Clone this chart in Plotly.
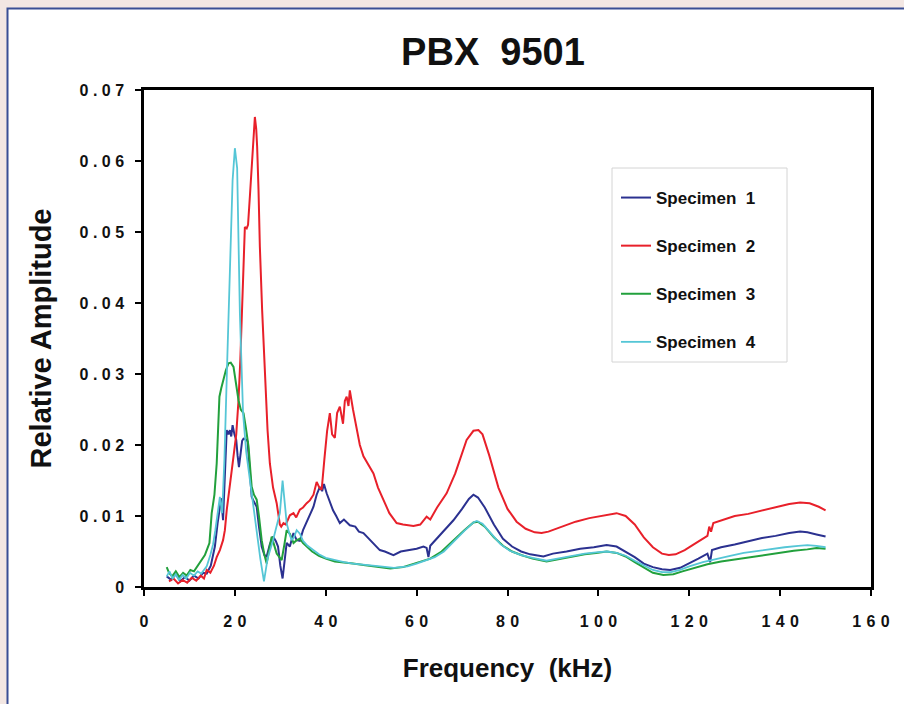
import plotly.graph_objects as go

# ---- data: relative amplitude spectra, frequency in kHz ----
freq1 = [5.0, 6.0, 7.0, 8.0, 9.0, 10.0, 11.0, 12.0, 13.0, 13.8, 14.7, 15.6, 16.2, 16.7, 17.0, 17.4, 17.8,
         18.2, 18.6, 18.9, 19.2, 19.5, 19.9, 20.3, 20.6, 20.9, 21.3, 21.6, 21.9, 22.4, 22.8, 23.2, 23.7,
         24.2, 24.8, 25.3, 25.9, 26.5, 27.0, 27.7, 28.4, 29.0, 29.5, 30.0, 30.5, 31.0, 31.4, 32.1, 32.9,
         33.6, 34.3, 35.0, 36.0, 37.3, 38.0, 38.7, 39.2, 39.6, 40.2, 40.9, 41.6, 42.3, 43.1, 44.0, 45.3,
         46.5, 47.3, 48.3, 49.5, 50.5, 51.9, 53.0, 54.9, 56.5, 58.6, 60.0, 61.5, 62.2, 62.6, 63.0, 63.7,
         65.0, 66.5, 68.1, 70.0, 71.5, 72.5, 73.5, 75.0, 77.0, 79.0, 81.0, 83.0, 85.0, 87.9, 90.0, 93.0,
         96.0, 99.0, 101.8, 104.0, 106.0, 108.0, 110.0, 112.0, 114.0, 115.8, 118.0, 120.0, 122.0, 124.0,
         124.6, 125.0, 127.0, 130.0, 133.0, 136.0, 139.0, 142.0, 144.4, 146.0, 148.0, 150.0]
amp1 = [0.0015, 0.0010, 0.0018, 0.0008, 0.0014, 0.0009, 0.0016, 0.0012, 0.0020, 0.0019, 0.0030, 0.0057,
        0.0090, 0.0113, 0.0125, 0.0094, 0.0150, 0.0221, 0.0215, 0.0221, 0.0212, 0.0228, 0.0215, 0.0207,
        0.0185, 0.0169, 0.0190, 0.0206, 0.0209, 0.0208, 0.0205, 0.0175, 0.0127, 0.0120, 0.0113, 0.0085,
        0.0057, 0.0045, 0.0043, 0.0060, 0.0071, 0.0065, 0.0057, 0.0030, 0.0012, 0.0040, 0.0062, 0.0057,
        0.0076, 0.0066, 0.0065, 0.0080, 0.0095, 0.0113, 0.0130, 0.0141, 0.0135, 0.0145, 0.0132, 0.0120,
        0.0108, 0.0100, 0.0090, 0.0095, 0.0087, 0.0085, 0.0078, 0.0076, 0.0068, 0.0062, 0.0052, 0.0050,
        0.0045, 0.0050, 0.0052, 0.0054, 0.0057, 0.0055, 0.0042, 0.0058, 0.0063, 0.0072, 0.0083, 0.0094,
        0.0110, 0.0124, 0.0130, 0.0126, 0.0112, 0.0088, 0.0068, 0.0057, 0.0050, 0.0046, 0.0043, 0.0047,
        0.0050, 0.0054, 0.0056, 0.0059, 0.0057, 0.0050, 0.0042, 0.0033, 0.0028, 0.0025, 0.0024, 0.0027,
        0.0033, 0.0040, 0.0047, 0.0035, 0.0052, 0.0056, 0.0060, 0.0065, 0.0069, 0.0072, 0.0076, 0.0078,
        0.0077, 0.0074, 0.0071]

freq2 = [5.5, 6.5, 7.5, 8.5, 9.5, 10.5, 11.5, 12.5, 13.2, 13.8, 14.6, 15.4, 16.0, 16.7, 17.4, 17.8, 18.2,
         18.9, 19.7, 20.3, 20.8, 21.2, 21.5, 21.9, 22.2, 22.6, 22.9, 23.3, 23.7, 24.1, 24.4, 24.7, 24.9,
         25.2, 25.5, 26.0, 26.6, 27.2, 27.7, 28.4, 29.2, 29.9, 30.2, 30.7, 31.2, 32.1, 32.9, 33.5, 34.3,
         35.0, 35.8, 36.5, 37.3, 38.0, 38.6, 39.1, 39.7, 40.3, 40.9, 41.4, 42.0, 42.5, 43.1, 43.8, 44.2,
         44.6, 45.0, 45.3, 46.0, 46.8, 47.5, 48.3, 49.4, 50.5, 51.5, 52.7, 54.0, 55.6, 57.0, 59.3, 60.8,
         62.2, 63.0, 64.5, 66.6, 68.5, 71.0, 72.5, 73.6, 74.5, 76.0, 78.0, 80.0, 82.0, 84.0, 86.0, 87.5,
         89.0, 92.0, 95.0, 98.0, 101.0, 104.0, 106.0, 108.0, 110.0, 112.0, 114.0, 115.5, 117.0, 119.0,
         121.0, 123.0, 124.0, 124.4, 124.8, 125.3, 127.0, 130.0, 133.0, 136.0, 139.0, 142.0, 144.4, 146.5,
         148.5, 150.0]
amp2 = [0.0008, 0.0012, 0.0005, 0.0010, 0.0006, 0.0013, 0.0009, 0.0016, 0.0012, 0.0024, 0.0020, 0.0030,
        0.0042, 0.0052, 0.0066, 0.0080, 0.0108, 0.0140, 0.0184, 0.0215, 0.0263, 0.0320, 0.0376, 0.0450,
        0.0507, 0.0505, 0.0510, 0.0550, 0.0587, 0.0630, 0.0662, 0.0645, 0.0620, 0.0560, 0.0479, 0.0390,
        0.0292, 0.0220, 0.0174, 0.0140, 0.0118, 0.0088, 0.0085, 0.0090, 0.0088, 0.0101, 0.0104, 0.0098,
        0.0109, 0.0112, 0.0118, 0.0122, 0.0130, 0.0148, 0.0140, 0.0137, 0.0180, 0.0220, 0.0245, 0.0215,
        0.0210, 0.0245, 0.0254, 0.0230, 0.0262, 0.0268, 0.0255, 0.0277, 0.0250, 0.0225, 0.0200, 0.0184,
        0.0172, 0.0160, 0.0140, 0.0123, 0.0104, 0.0090, 0.0088, 0.0086, 0.0088, 0.0099, 0.0095, 0.0112,
        0.0132, 0.0160, 0.0207, 0.0220, 0.0221, 0.0215, 0.0185, 0.0140, 0.0110, 0.0092, 0.0082, 0.0077,
        0.0076, 0.0078, 0.0085, 0.0092, 0.0097, 0.0101, 0.0104, 0.0100, 0.0088, 0.0070, 0.0056, 0.0047,
        0.0045, 0.0046, 0.0052, 0.0060, 0.0068, 0.0072, 0.0085, 0.0078, 0.0090, 0.0094, 0.0100, 0.0103,
        0.0108, 0.0112, 0.0117, 0.0119, 0.0118, 0.0113, 0.0108]

freq3 = [5.0, 5.5, 6.2, 7.0, 7.8, 8.6, 9.4, 10.2, 11.0, 11.8, 12.6, 13.4, 14.0, 14.4, 14.9, 15.5, 16.0,
         16.6, 17.0, 17.4, 18.0, 18.6, 19.1, 19.7, 20.2, 20.8, 21.3, 21.9, 22.4, 23.0, 23.4, 23.7, 24.2,
         24.8, 25.3, 25.9, 26.5, 27.0, 27.6, 28.1, 28.6, 29.2, 29.8, 30.3, 30.9, 31.4, 32.1, 32.9, 33.6,
         34.3, 35.0, 35.8, 37.0, 38.5, 40.0, 42.0, 44.0, 46.0, 48.3, 51.0, 54.2, 57.0, 59.3, 61.0, 63.0,
         65.5, 68.1, 70.5, 72.5, 73.5, 75.0, 77.0, 79.0, 81.0, 83.0, 85.5, 88.6, 91.0, 94.0, 97.0, 99.5,
         101.8, 104.0, 106.0, 108.0, 110.0, 112.0, 114.3, 116.5, 118.5, 121.0, 124.0, 127.0, 130.0, 134.1,
         137.0, 140.0, 143.0, 146.0, 148.0, 150.0]
amp3 = [0.0028, 0.0020, 0.0015, 0.0022, 0.0014, 0.0020, 0.0016, 0.0024, 0.0022, 0.0030, 0.0038, 0.0045,
        0.0055, 0.0062, 0.0104, 0.0130, 0.0174, 0.0268, 0.0280, 0.0290, 0.0305, 0.0315, 0.0316, 0.0310,
        0.0290, 0.0263, 0.0250, 0.0245, 0.0225, 0.0198, 0.0165, 0.0141, 0.0130, 0.0123, 0.0100, 0.0066,
        0.0045, 0.0033, 0.0055, 0.0071, 0.0060, 0.0047, 0.0042, 0.0038, 0.0060, 0.0080, 0.0075, 0.0062,
        0.0066, 0.0068, 0.0062, 0.0057, 0.0050, 0.0044, 0.0040, 0.0036, 0.0034, 0.0033, 0.0031, 0.0029,
        0.0026, 0.0028, 0.0033, 0.0036, 0.0040, 0.0050, 0.0066, 0.0080, 0.0091, 0.0092, 0.0085, 0.0070,
        0.0058, 0.0050, 0.0045, 0.0040, 0.0036, 0.0039, 0.0043, 0.0046, 0.0048, 0.0050, 0.0048, 0.0043,
        0.0035, 0.0027, 0.0020, 0.0017, 0.0018, 0.0022, 0.0027, 0.0032, 0.0036, 0.0039, 0.0043, 0.0046,
        0.0048, 0.0051, 0.0053, 0.0055, 0.0054]

freq4 = [5.0, 5.6, 6.3, 7.0, 7.7, 8.5, 9.3, 10.1, 11.0, 11.8, 12.6, 13.3, 13.8, 14.6, 15.2, 15.7, 16.2,
         16.7, 17.2, 17.7, 18.3, 18.9, 19.5, 20.0, 20.5, 21.1, 21.5, 21.8, 22.5, 23.3, 24.0, 24.8, 25.6,
         26.4, 27.2, 28.4, 29.2, 29.9, 30.5, 31.0, 31.4, 32.0, 32.5, 33.0, 33.6, 34.3, 35.0, 36.0, 37.3,
         38.5, 40.0, 41.7, 44.0, 46.0, 49.7, 52.0, 55.0, 58.0, 60.0, 62.0, 64.0, 66.0, 68.1, 70.5, 72.5,
         73.2, 74.5, 76.5, 78.5, 80.5, 83.0, 85.5, 88.6, 91.0, 94.0, 97.0, 100.0, 102.0, 104.0, 106.0,
         108.0, 110.0, 112.0, 114.0, 116.0, 118.0, 120.0, 123.0, 126.0, 129.0, 132.0, 135.0, 138.0, 141.0,
         144.0, 146.0, 148.0, 150.0]
amp4 = [0.0015, 0.0022, 0.0012, 0.0018, 0.0010, 0.0017, 0.0012, 0.0020, 0.0016, 0.0022, 0.0019, 0.0025,
        0.0029, 0.0045, 0.0060, 0.0080, 0.0105, 0.0127, 0.0104, 0.0180, 0.0315, 0.0456, 0.0573, 0.0618,
        0.0590, 0.0386, 0.0300, 0.0245, 0.0190, 0.0150, 0.0115, 0.0080, 0.0040, 0.0008, 0.0040, 0.0066,
        0.0085, 0.0104, 0.0150, 0.0120, 0.0090, 0.0075, 0.0066, 0.0070, 0.0080, 0.0075, 0.0065, 0.0058,
        0.0052, 0.0046, 0.0041, 0.0038, 0.0035, 0.0033, 0.0031, 0.0029, 0.0027, 0.0029, 0.0033, 0.0037,
        0.0042, 0.0050, 0.0064, 0.0079, 0.0091, 0.0093, 0.0089, 0.0075, 0.0060, 0.0051, 0.0045, 0.0041,
        0.0037, 0.0040, 0.0044, 0.0047, 0.0049, 0.0050, 0.0048, 0.0044, 0.0037, 0.0030, 0.0024, 0.0021,
        0.0021, 0.0024, 0.0029, 0.0035, 0.0040, 0.0044, 0.0048, 0.0051, 0.0054, 0.0056, 0.0058, 0.0059,
        0.0058, 0.0056]

series_names = ["Specimen\u00a0\u00a01", "Specimen\u00a0\u00a02", "Specimen\u00a0\u00a03", "Specimen\u00a0\u00a04"]
series_colors = ["#2b3190", "#e8202a", "#22a03c", "#55c6d6"]
series_widths = [2.0, 2.0, 2.0, 1.8]

x_ticks = [0, 20, 40, 60, 80, 100, 120, 140, 160]
y_ticks = [0, 0.01, 0.02, 0.03, 0.04, 0.05, 0.06, 0.07]

# spaced-out tick labels
x_ticktext = ["\u2004".join(str(v)) for v in x_ticks]
y_ticktext = ["0"] + [" ".join(f"{v:.2f}") for v in y_ticks[1:]]

FONT = "Liberation Sans, Arial, sans-serif"

fig = go.Figure()
for i, (fx, ay) in enumerate([(freq1, amp1), (freq2, amp2), (freq3, amp3), (freq4, amp4)]):
    fig.add_trace(go.Scatter(
        x=fx, y=ay, mode="lines", name=series_names[i], legendgroup=f"g{i}",
        line=dict(color=series_colors[i], width=series_widths[i]),
    ))

# page geometry (pixels) used to place the framed panel and the legend box
W, H = 904, 704
L, R, T, B = 144, 33, 90, 117
pw, ph = W - L - R, H - T - B


def px_x(p):
    return (p - L) / pw


def px_y(p):
    return (H - B - p) / ph


fig.update_layout(
    width=W, height=H,
    margin=dict(l=L, r=R, t=T, b=B, autoexpand=False),
    paper_bgcolor="#f3e7e3",
    plot_bgcolor="white",
    font=dict(family=FONT, color="#111111"),
    title=dict(text="<b>PBX  9501</b>", x=px_x(493), xref="paper", xanchor="center",
               y=1 - 52 / H, yanchor="middle", font=dict(size=38, family=FONT, color="#111111")),
    xaxis=dict(range=[0, 160], tickvals=x_ticks, ticktext=x_ticktext,
               ticks="outside", ticklen=6, tickwidth=1.5, tickcolor="black",
               showline=True, linecolor="black", linewidth=2.5, mirror=True,
               showgrid=False, zeroline=False,
               tickfont=dict(size=16, family=FONT, weight="bold"), ticklabelstandoff=12,
               title=dict(text="<b>Frequency  (kHz)</b>", font=dict(size=26, family=FONT), standoff=30)),
    yaxis=dict(range=[0, 0.07], tickvals=y_ticks, ticktext=y_ticktext,
               ticks="outside", ticklen=6, tickwidth=1.5, tickcolor="black",
               showline=True, linecolor="black", linewidth=2.5, mirror=True,
               showgrid=False, zeroline=False,
               tickfont=dict(size=16, family=FONT, weight="bold"), ticklabelstandoff=8,
               title=dict(text="<b>Relative Amplitude</b>", font=dict(size=29, family=FONT), standoff=20)),
    legend=dict(x=px_x(616), y=px_y(180), xanchor="left", yanchor="top",
                bgcolor="rgba(0,0,0,0)", borderwidth=0, tracegroupgap=23,
                font=dict(size=17, family=FONT, weight="bold", color="#111111")),
    shapes=[
        # white panel with blue frame
        dict(type="rect", xref="paper", yref="paper", layer="below",
             x0=px_x(7.5), x1=px_x(W + 10), y0=px_y(H + 10), y1=px_y(8.5),
             fillcolor="white", line=dict(color="#3a4f95", width=2)),
        # legend box
        dict(type="rect", xref="paper", yref="paper", layer="above",
             x0=px_x(612), x1=px_x(787), y0=px_y(362), y1=px_y(168),
             fillcolor="rgba(0,0,0,0)", line=dict(color="#d4d4d4", width=1)),
    ],
)

fig.write_html("out.html")
